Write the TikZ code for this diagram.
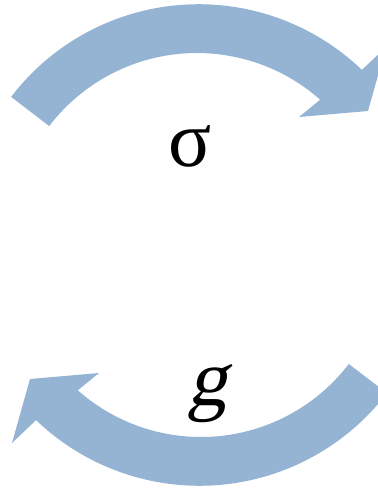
\documentclass[tikz,border=0pt]{standalone}
\usepackage{fontspec}
\setmainfont{Liberation Serif}
\newfontfamily\slantserif[FakeSlant=0.22]{Liberation Serif}
\definecolor{bandblue}{RGB}{149,179,211}
\tikzset{
  band/.style={fill=bandblue, draw=none},
  lbl/.style={inner sep=0pt, font=\fontsize{80}{80}\selectfont}
}
\begin{document}
\begin{tikzpicture}[x=1pt, y=-1pt]
  \useasboundingbox (0,0) rectangle (378,488);
  \clip (0,0) rectangle (378,488);
  % curved arrow: outer arc, head, inner arc back to the tail
  \def\curvedarrow{%
    \fill[band] (197,239) ++(-142.6:234) arc[start angle=-142.6, end angle=-46.2, radius=236]
      -- (386,47) -- (368,111) -- (299,117)
      -- (320.2,99.7) arc[start angle=-48.5, end angle=-142.6, radius=186] -- cycle;}
  \curvedarrow
  \begin{scope}[rotate around={180:(199,245)}]
    \curvedarrow
  \end{scope}
  \node[lbl] (sigma) at (190,146) {σ};
  \node[lbl] (gee) at (207,394) {\slantserif g};
\end{tikzpicture}
\end{document}
